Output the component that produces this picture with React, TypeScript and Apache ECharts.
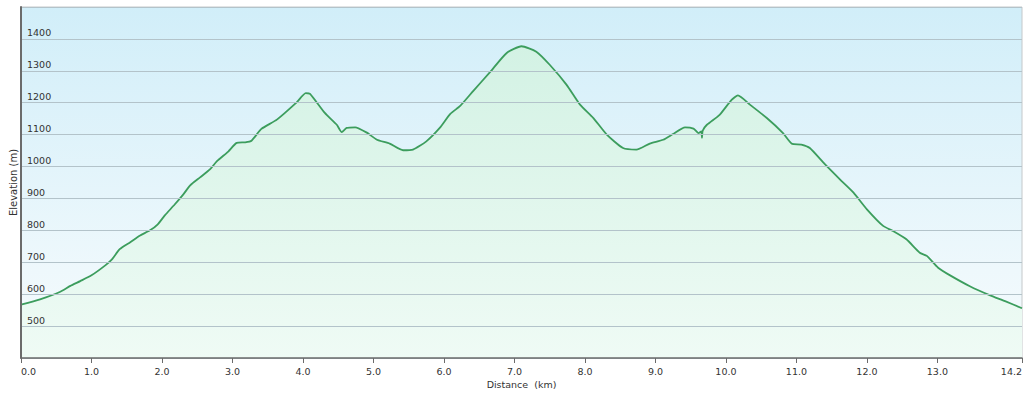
import React, { useEffect, useRef } from "react";
import * as echarts from "echarts";

const distKm: number[] = [
  0.0, 0.27, 0.55, 0.7, 0.84, 1.0, 1.2, 1.29, 1.4, 1.55, 1.69, 1.83, 1.94, 2.04, 2.18, 2.3, 2.4, 2.54, 2.68,
  2.78, 2.94, 3.06, 3.18, 3.27, 3.41, 3.63, 3.91, 4.04, 4.1, 4.31, 4.48, 4.55, 4.62, 4.74, 4.9, 5.05, 5.23,
  5.42, 5.56, 5.75, 5.94, 6.09, 6.23, 6.42, 6.65, 6.89, 7.1, 7.31, 7.5, 7.74, 7.93, 8.12, 8.31, 8.54, 8.73,
  8.92, 9.11, 9.25, 9.42, 9.54, 9.61, 9.65, 9.66, 9.67, 9.73, 9.91, 10.08, 10.17, 10.34, 10.58, 10.81, 10.94,
  11.07, 11.19, 11.4, 11.62, 11.81, 12.0, 12.23, 12.37, 12.56, 12.75, 12.85, 13.01, 13.18, 13.46, 13.74,
  13.96, 14.2,
];

const elevM: number[] = [
  567, 584, 607, 626, 641, 659, 691, 709, 741, 763, 784, 800, 819, 847, 881, 912, 941, 966, 991,
  1017, 1047, 1074, 1076, 1081, 1118, 1147, 1201, 1230, 1228, 1168, 1131, 1108, 1121, 1123, 1107, 1084, 1072,
  1051, 1053, 1079, 1121, 1165, 1190, 1238, 1295, 1356, 1377, 1360, 1319, 1256, 1194, 1152, 1100, 1058, 1053,
  1072, 1084, 1102, 1123, 1119, 1105, 1110, 1090, 1112, 1131, 1162, 1209, 1223, 1194, 1152, 1105, 1071,
  1069, 1058, 1008, 959, 918, 866, 814, 798, 772, 730, 720, 683, 659, 625, 597,
  578, 556,
];

const xTickValues: number[] = [0, 1, 2, 3, 4, 5, 6, 7, 8, 9, 10, 11, 12, 13, 14.2];
const yTickValues: number[] = [500, 600, 700, 800, 900, 1000, 1100, 1200, 1300, 1400];

const FONT = "DejaVu Sans, Verdana, sans-serif";

export default function App() {
  const ref = useRef<HTMLDivElement>(null);
  useEffect(() => {
    if (!ref.current) return;
    const chart = echarts.init(ref.current, undefined, { renderer: "svg" });
    const data = distKm.map((d, i) => [d, elevM[i]]);
    chart.setOption({
      animation: false,
      backgroundColor: "#ffffff",
      grid: {
        left: 21,
        right: 2,
        top: 7,
        bottom: 36,
        outerBoundsMode: "none",
        containLabel: false,
        show: true,
        borderColor: "#c4c8ca",
        borderWidth: 1,
        backgroundColor: new echarts.graphic.LinearGradient(0, 0, 0, 1, [
          { offset: 0, color: "#d1eef9" },
          { offset: 0.75, color: "#eef8fc" },
          { offset: 1, color: "#f6fbfd" },
        ]),
      },
      xAxis: {
        type: "value",
        min: 0,
        max: 14.2,
        interval: 1,
        z: 5,
        name: "Distance  (km)",
        nameLocation: "middle",
        nameGap: 21,
        nameMoveOverlap: false,
        nameTextStyle: { fontFamily: FONT, fontSize: 9.5, color: "#333" },
        axisLine: { show: true, lineStyle: { color: "#6b6b6b", width: 1.5 } },
        axisTick: { show: true, length: 5, customValues: xTickValues, lineStyle: { color: "#6b6b6b" } },
        axisLabel: {
          customValues: xTickValues,
          formatter: (v: number) => v.toFixed(1),
          fontFamily: FONT,
          fontSize: 9.5,
          color: "#333",
          margin: 8,
          alignMinLabel: "left",
          alignMaxLabel: "right",
        },
        splitLine: { show: false },
      },
      yAxis: {
        type: "value",
        min: 400,
        max: 1500,
        interval: 100,
        z: 5,
        name: "Elevation (m)",
        nameLocation: "middle",
        nameGap: 3,
        nameMoveOverlap: false,
        nameTextStyle: { fontFamily: FONT, fontSize: 10, color: "#333" },
        axisLine: { show: true, lineStyle: { color: "#6b6b6b", width: 2 } },
        axisTick: { show: false },
        axisLabel: {
          inside: true,
          customValues: yTickValues,
          formatter: (v: number) => String(v),
          verticalAlign: "bottom",
          margin: 6,
          fontFamily: FONT,
          fontSize: 9.5,
          color: "#333",
          padding: [0, 0, 1, 0],
        },
        splitLine: { show: true, lineStyle: { color: "#b3c3ca", width: 1.2 } },
      },
      series: [
        {
          type: "line",
          data,
          showSymbol: false,
          smooth: 0.2,
          lineStyle: { color: "#3c9d5d", width: 1.8 },
          areaStyle: {
            color: new echarts.graphic.LinearGradient(0, 0, 0, 1, [
              { offset: 0, color: "#d3f2e4" },
              { offset: 1, color: "#effbf5" },
            ]),
            opacity: 1,
          },
          z: 1,
        },
      ],
    });
    return () => chart.dispose();
  }, []);
  return (
    <div
      ref={ref}
      style={{ position: "fixed", left: 0, top: 0, width: 1024, height: 394 }}
    />
  );
}
